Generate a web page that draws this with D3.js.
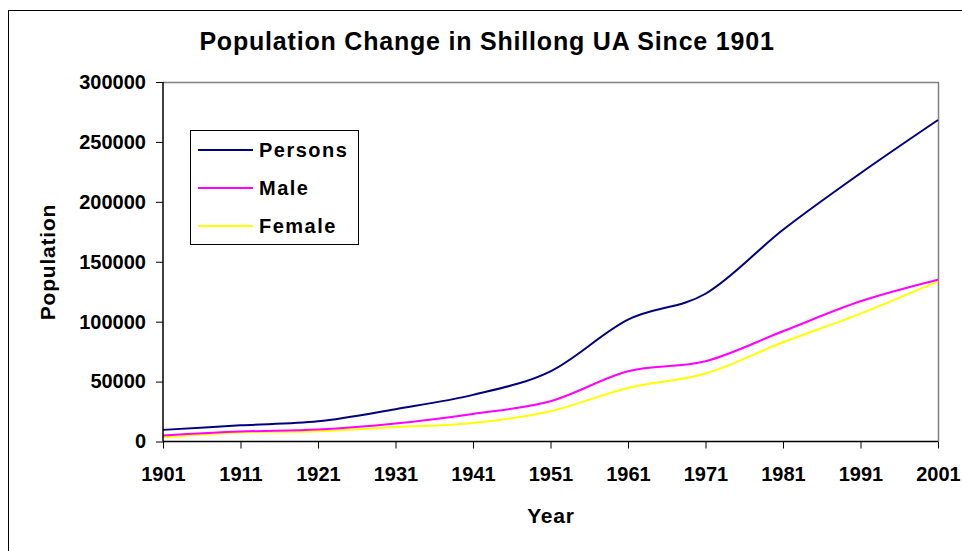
<meta charset="utf-8" />
<style>
	body { margin: 0; background: #fff; }
	text { font-family: 'Liberation Sans', Arial, sans-serif; font-weight: bold; fill: #000; }
</style>
<svg width="962" height="551"></svg>
<script src="https://cdn.jsdelivr.net/npm/d3@7/dist/d3.min.js"></script>
<script>
	var years = [1901, 1911, 1921, 1931, 1941, 1951, 1961, 1971, 1981, 1991, 2001];
	var persons = [9700, 13500, 16800, 27000, 38900, 58600, 101700, 123300, 176700, 223900, 268300];
	var male = [5000, 8300, 10000, 15000, 23000, 33600, 58600, 67000, 92000, 117000, 135000];
	var female = [3600, 7600, 8600, 12000, 15500, 25300, 44700, 56700, 82800, 106700, 133600];
	var yTicks = [0, 50000, 100000, 150000, 200000, 250000, 300000];

	var series = [
		{ name: 'Persons', values: persons, color: '#000080' },
		{ name: 'Male', values: male, color: '#ff00ff' },
		{ name: 'Female', values: female, color: '#ffff00' }
	];

	var svg = d3.select('svg');
	var pLeft = 163, pRight = 938, pTop = 82, pBottom = 441.5;

	// outer chart frame
	svg.append('rect')
		.attr('x', 8.5).attr('y', 10.5)
		.attr('width', 1000).attr('height', 600)
		.attr('fill', 'none').attr('stroke', '#000');

	var x = d3.scaleLinear().domain([1901, 2001]).range([pLeft, pRight]);
	var y = d3.scaleLinear().domain([0, 300000]).range([pBottom, pTop]);

	// plot area border (top and right, grey)
	svg.append('path')
		.attr('d', 'M' + pLeft + ',' + (pTop + 0.5) + 'H' + (pRight + 0.5) + 'V' + pBottom)
		.attr('fill', 'none').attr('stroke', '#808080').attr('stroke-width', 1.5);

	var line = d3.line()
		.x((d, i) => x(years[i]))
		.y(d => y(d))
		.curve(d3.curveCardinal);

	// draw female first so persons sits on top
	svg.selectAll('.series')
		.data(series.slice().reverse())
		.enter().append('path')
		.attr('class', 'series')
		.attr('d', d => line(d.values))
		.attr('fill', 'none')
		.attr('stroke', d => d.color)
		.attr('stroke-width', 2);

	var yAxis = svg.append('g')
		.attr('transform', 'translate(' + pLeft + ',0)')
		.call(d3.axisLeft(y).tickValues(yTicks).tickSize(7).tickPadding(10).tickFormat(d3.format('d')));

	var xAxis = svg.append('g')
		.attr('transform', 'translate(0,' + pBottom + ')')
		.call(d3.axisBottom(x).tickValues(years).tickSize(7).tickPadding(18).tickFormat(d3.format('d')));

	[yAxis, xAxis].forEach(a => {
		a.select('.domain').attr('stroke', '#000').attr('stroke-width', 1.5);
		a.selectAll('.tick line').attr('stroke', '#000');
		a.selectAll('text')
			.style('font-family', "'Liberation Sans', Arial, sans-serif")
			.style('font-weight', 'bold')
			.style('font-size', '20px')
			.attr('fill', '#000');
	});
	yAxis.select('.domain').attr('d', 'M0,' + pTop + 'V' + pBottom);
	xAxis.select('.domain').attr('d', 'M' + pLeft + ',0H' + pRight);

	svg.append('text')
		.attr('x', 487).attr('y', 50)
		.attr('text-anchor', 'middle')
		.style('font-size', '25px')
		.style('letter-spacing', '0.8px')
		.text('Population Change in Shillong UA Since 1901');

	svg.append('text')
		.attr('x', 551).attr('y', 523)
		.attr('text-anchor', 'middle')
		.style('font-size', '21px')
		.style('letter-spacing', '0.8px')
		.text('Year');

	svg.append('text')
		.attr('transform', 'translate(55,262) rotate(-90)')
		.attr('text-anchor', 'middle')
		.style('font-size', '21px')
		.style('letter-spacing', '0.8px')
		.text('Population');

	// legend
	var legend = svg.append('g').attr('transform', 'translate(190,130)');
	legend.append('rect')
		.attr('x', 0.5).attr('y', 0.5)
		.attr('width', 168).attr('height', 114)
		.attr('fill', '#fff').attr('stroke', '#000');

	var item = legend.selectAll('.item')
		.data(series)
		.enter().append('g')
		.attr('class', 'item')
		.attr('transform', (d, i) => 'translate(0,' + (20 + i * 38) + ')');

	item.append('line')
		.attr('x1', 8).attr('x2', 63)
		.attr('stroke', d => d.color).attr('stroke-width', 2);

	item.append('text')
		.attr('x', 69).attr('y', 7)
		.style('font-size', '20px')
		.style('letter-spacing', '1.5px')
		.text(d => d.name);
</script>
